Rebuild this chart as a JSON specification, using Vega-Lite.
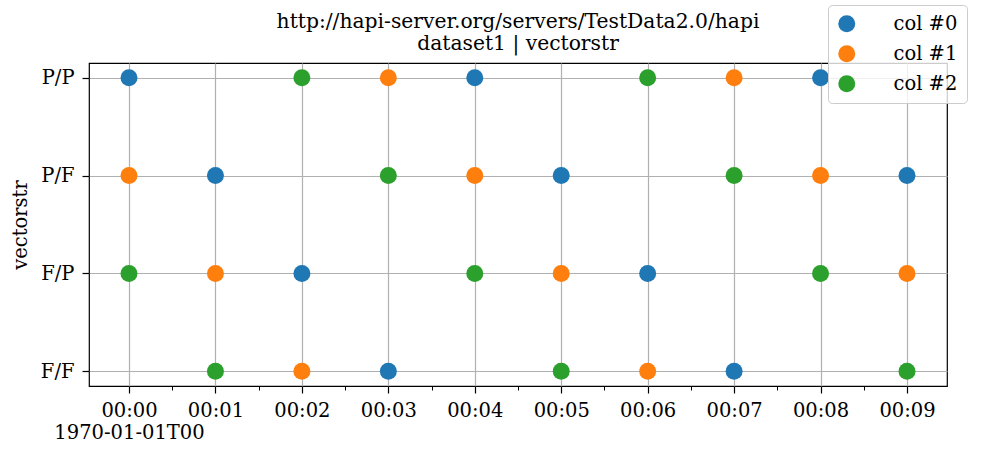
{
  "$schema": "https://vega.github.io/schema/vega-lite/v6.json",
  "width": 858,
  "height": 323,
  "autosize": "none",
  "padding": {"left": 89, "top": 63, "right": 34, "bottom": 70},
  "background": "white",
  "config": {
    "font": "DejaVu Serif",
    "view": {"stroke": "black", "strokeWidth": 1.2},
    "axis": {
      "labelFont": "DejaVu Serif",
      "labelFontSize": 19.5,
      "labelColor": "black",
      "titleFont": "DejaVu Serif",
      "titleFontSize": 19.5,
      "titleFontWeight": "normal",
      "titleColor": "black",
      "domain": false,
      "tickColor": "black",
      "tickWidth": 1.2,
      "tickSize": 7,
      "gridColor": "#b0b0b0",
      "gridWidth": 1.2,
      "gridOpacity": 1
    }
  },
  "title": {
    "text": ["http://hapi-server.org/servers/TestData2.0/hapi", "dataset1 | vectorstr"],
    "font": "DejaVu Serif",
    "fontSize": 20.3,
    "fontWeight": "normal",
    "color": "black",
    "anchor": "middle",
    "offset": 0,
    "lineHeight": 22,
    "dy": 50
  },
  "data": {
    "values": [
      {"t": 0, "v": 3, "col": "col #0"}, {"t": 0, "v": 2, "col": "col #1"}, {"t": 0, "v": 1, "col": "col #2"},
      {"t": 1, "v": 2, "col": "col #0"}, {"t": 1, "v": 1, "col": "col #1"}, {"t": 1, "v": 0, "col": "col #2"},
      {"t": 2, "v": 1, "col": "col #0"}, {"t": 2, "v": 0, "col": "col #1"}, {"t": 2, "v": 3, "col": "col #2"},
      {"t": 3, "v": 0, "col": "col #0"}, {"t": 3, "v": 3, "col": "col #1"}, {"t": 3, "v": 2, "col": "col #2"},
      {"t": 4, "v": 3, "col": "col #0"}, {"t": 4, "v": 2, "col": "col #1"}, {"t": 4, "v": 1, "col": "col #2"},
      {"t": 5, "v": 2, "col": "col #0"}, {"t": 5, "v": 1, "col": "col #1"}, {"t": 5, "v": 0, "col": "col #2"},
      {"t": 6, "v": 1, "col": "col #0"}, {"t": 6, "v": 0, "col": "col #1"}, {"t": 6, "v": 3, "col": "col #2"},
      {"t": 7, "v": 0, "col": "col #0"}, {"t": 7, "v": 3, "col": "col #1"}, {"t": 7, "v": 2, "col": "col #2"},
      {"t": 8, "v": 3, "col": "col #0"}, {"t": 8, "v": 2, "col": "col #1"}, {"t": 8, "v": 1, "col": "col #2"},
      {"t": 9, "v": 2, "col": "col #0"}, {"t": 9, "v": 1, "col": "col #1"}, {"t": 9, "v": 0, "col": "col #2"}
    ]
  },
  "layer": [
    {
      "mark": {"type": "point", "filled": true, "opacity": 1, "size": 289, "shape": "circle"},
      "encoding": {
        "x": {
          "field": "t", "type": "quantitative",
          "scale": {"domain": [-0.4627, 9.4627], "nice": false, "zero": false},
          "axis": {
            "orient": "bottom",
            "values": [0, 1, 2, 3, 4, 5, 6, 7, 8, 9],
            "labelExpr": "datum.value == 0 ? ['00:00', '1970-01-01T00'] : '00:0' + datum.value",
            "labelOverlap": false,
            "labelPadding": 8,
            "labelLineHeight": 22,
            "grid": true,
            "title": null
          }
        },
        "y": {
          "field": "v", "type": "quantitative",
          "scale": {"domain": [-0.15, 3.15], "nice": false, "zero": false},
          "axis": {
            "values": [0, 1, 2, 3],
            "labelExpr": "['F/F','F/P','P/F','P/P'][datum.value]",
            "labelOverlap": false,
            "labelPadding": 8,
            "grid": true,
            "title": "vectorstr",
            "titlePadding": 10
          }
        },
        "color": {
          "field": "col", "type": "nominal",
          "scale": {"domain": ["col #0", "col #1", "col #2"], "range": ["#1f77b4", "#ff7f0e", "#2ca02c"]},
          "legend": {
            "title": null,
            "orient": "none",
            "legendX": 739,
            "legendY": -58,
            "symbolType": "circle",
            "symbolSize": 289,
            "symbolStrokeWidth": 0,
            "symbolOpacity": 1,
            "labelFont": "DejaVu Serif",
            "labelFontSize": 19.5,
            "labelColor": "black",
            "labelOffset": 37,
            "rowPadding": 9,
            "padding": 9,
            "fillColor": "rgba(255,255,255,0.8)",
            "strokeColor": "#cccccc",
            "cornerRadius": 4
          }
        }
      }
    },
    {
      "mark": {"type": "point", "opacity": 0},
      "encoding": {
        "x": {
          "field": "t", "type": "quantitative",
          "axis": {"orient": "bottom", "values": [0.5, 1.5, 2.5, 3.5, 4.5, 5.5, 6.5, 7.5, 8.5], "labels": false, "grid": false, "tickSize": 4, "tickWidth": 1, "title": null}
        },
        "y": {"field": "v", "type": "quantitative"}
      }
    }
  ],
  "resolve": {"axis": {"x": "independent"}}
}
